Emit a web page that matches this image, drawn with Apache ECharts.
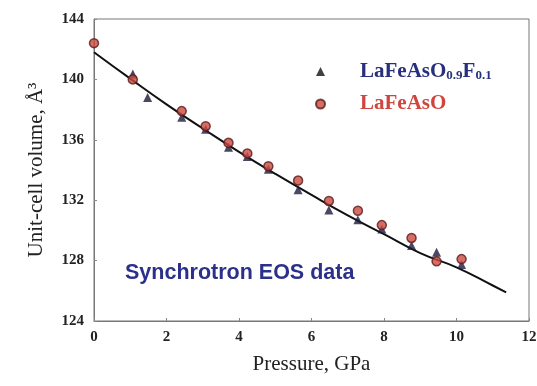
<!DOCTYPE html>
<html>
<head>
<meta charset="utf-8">
<script src="https://cdn.jsdelivr.net/npm/echarts@6/dist/echarts.min.js"></script>
<style>
  html, body { margin: 0; padding: 0; background: #fff; }
  #chart { width: 537px; height: 386px; }
</style>
</head>
<body>
<div id="chart"></div>
<script>
// Unit-cell volume vs pressure (synchrotron EOS data)
const pressureF = [1.07, 1.48, 2.42, 3.08, 3.71, 4.23, 4.81, 5.63, 6.48, 7.28, 7.94, 8.76, 9.45, 10.14];
const volumeF   = [140.35, 138.8, 137.5, 136.7, 135.5, 134.9, 134.05, 132.7, 131.35, 130.7, 130.1, 129.0, 128.55, 127.75];

const pressureO = [0, 1.07, 2.42, 3.08, 3.71, 4.23, 4.81, 5.63, 6.48, 7.28, 7.94, 8.76, 9.45, 10.14];
const volumeO   = [142.4, 140.0, 137.9, 136.9, 135.8, 135.1, 134.25, 133.3, 131.95, 131.3, 130.35, 129.5, 127.95, 128.1];

// EOS fit curve
const fitPressure = [0, 1, 2, 3, 4, 5, 6, 7, 8, 9, 10, 11, 11.37];
const fitVolume   = [141.8, 140.05, 138.35, 136.75, 135.2, 133.75, 132.35, 131.0, 129.75, 128.5, 127.55, 126.35, 125.9];

const xTicks = [0, 2, 4, 6, 8, 10, 12];
const yTicks = [124, 128, 132, 136, 140, 144];

const NAME_F = 'LaFeAsO0.9F0.1';
const NAME_O = 'LaFeAsO';

const zip = (a, b) => a.map((v, i) => [v, b[i]]);

const serif = '"Liberation Serif", "Times New Roman", serif';
const chart = echarts.init(document.getElementById('chart'));

chart.setOption({
  animation: false,
  backgroundColor: '#fff',
  grid: {
    left: 94, right: 8, top: 19, bottom: 65,
    outerBoundsMode: 'none',
    containLabel: false,
    show: true, borderColor: '#777', borderWidth: 1
  },
  xAxis: {
    type: 'value',
    min: xTicks[0], max: xTicks[xTicks.length - 1], interval: 2,
    name: 'Pressure, GPa',
    nameLocation: 'middle', nameGap: 33,
    nameTextStyle: { fontFamily: serif, fontSize: 21, color: '#222' },
    axisLine: { show: true, lineStyle: { color: '#777', width: 1 } },
    axisTick: { show: true, inside: true, length: 3, lineStyle: { color: '#888' } },
    splitLine: { show: false },
    axisLabel: { fontFamily: serif, fontWeight: 'bold', fontSize: 15, color: '#222', margin: 9 }
  },
  yAxis: {
    type: 'value',
    min: yTicks[0], max: yTicks[yTicks.length - 1], interval: 4,
    name: 'Unit-cell volume, Å³',
    nameLocation: 'middle', nameGap: 47,
    nameTextStyle: { fontFamily: serif, fontSize: 21, color: '#222' },
    axisLine: { show: true, lineStyle: { color: '#777', width: 1 } },
    axisTick: { show: true, inside: true, length: 3, lineStyle: { color: '#888' } },
    splitLine: { show: false },
    axisLabel: { fontFamily: serif, fontWeight: 'bold', fontSize: 15, color: '#222', margin: 10 }
  },
  legend: {
    orient: 'vertical',
    left: 310, top: 56,
    itemGap: 11,
    itemWidth: 9, itemHeight: 9,
    data: [
      { name: NAME_F, itemStyle: { color: '#111' } },
      { name: NAME_O }
    ],
    formatter: function (name) {
      if (name === NAME_F) return '{b|LaFeAsO}{bs|0.9}{b|F}{bs|0.1}';
      return '{r|LaFeAsO}';
    },
    textStyle: {
      padding: [0, 0, 0, 30],
      rich: {
        b:  { fontFamily: serif, fontWeight: 'bold', fontSize: 21, color: '#27307a' },
        bs: { fontFamily: serif, fontWeight: 'bold', fontSize: 13, color: '#27307a', verticalAlign: 'bottom', padding: [9, 0, 0, 0] },
        r:  { fontFamily: serif, fontWeight: 'bold', fontSize: 21, color: '#d0463e' }
      }
    }
  },
  graphic: [{
    type: 'text',
    left: 125, top: 262,
    style: {
      text: 'Synchrotron EOS data',
      font: 'bold 21.5px "Liberation Sans", Arial, sans-serif',
      fill: '#2b318a'
    }
  }],
  series: [
    {
      name: 'EOS fit',
      type: 'line',
      data: zip(fitPressure, fitVolume),
      smooth: true,
      showSymbol: false,
      lineStyle: { color: '#111', width: 2 },
      z: 1
    },
    {
      name: NAME_F,
      type: 'scatter',
      data: zip(pressureF, volumeF),
      symbol: 'triangle',
      symbolSize: 9,
      itemStyle: { color: '#1c1c3c' },
      z: 2
    },
    {
      name: NAME_O,
      type: 'scatter',
      data: zip(pressureO, volumeO),
      symbol: 'circle',
      symbolSize: 9,
      itemStyle: { color: '#cc4a40', borderColor: '#5a1a1a', borderWidth: 1.5 },
      z: 3
    }
  ]
});
</script>
</body>
</html>
